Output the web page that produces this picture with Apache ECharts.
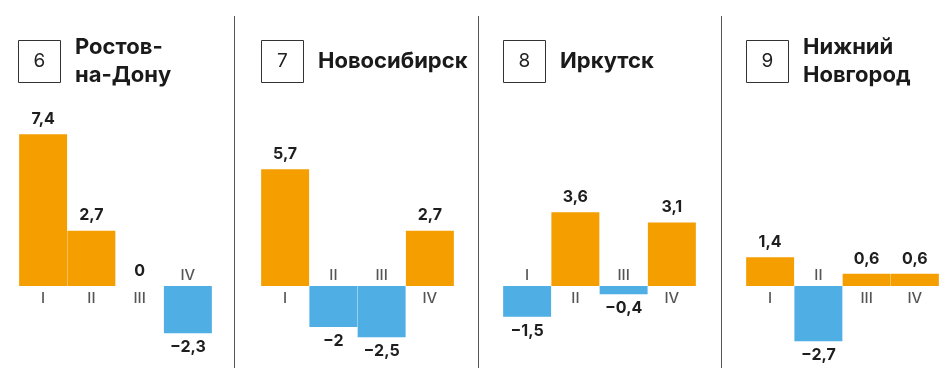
<!DOCTYPE html>
<html><head><meta charset="utf-8">
<script src="https://cdn.jsdelivr.net/npm/echarts@6/dist/echarts.min.js"></script>
<style>html,body{margin:0;padding:0;background:#fff}#c{width:947px;height:375px}</style>
</head><body><div id="c"></div>
<script>
const numbers = ['6', '7', '8', '9'];
const cities = ['Ростов-\nна-Дону', 'Новосибирск', 'Иркутск', 'Нижний\nНовгород'];
const quarters = ['I', 'II', 'III', 'IV'];
const rostov = [7.4, 2.7, 0, -2.3];
const novosibirsk = [5.7, -2, -2.5, 2.7];
const irkutsk = [-1.5, 3.6, -0.4, 3.1];
const nizhny = [1.4, -2.7, 0.6, 0.6];
const panels = [rostov, novosibirsk, irkutsk, nizhny];

const ORANGE = '#F59E00', BLUE = '#4FAEE3';
const FONT = 'Inter, Roboto, sans-serif';
const gridLefts = [19, 261, 503, 746];
const boxLefts = [18, 261, 503, 746];
const sepX = [234.5, 478.5, 721.5];

function fmt(v) {
  const s = String(Math.abs(v)).replace('.', ',');
  return v < 0 ? '\u2212' + s : s;
}

const grid = [], xAxis = [], yAxis = [], series = [], graphic = [];
panels.forEach((vals, p) => {
  grid.push({left: gridLefts[p], width: 193, top: 122, height: 235.75});
  xAxis.push({type: 'category', gridIndex: p, data: quarters, show: false, boundaryGap: true});
  yAxis.push({type: 'value', gridIndex: p, min: -3.5, max: 8, show: false});
  series.push({
    type: 'bar', xAxisIndex: p, yAxisIndex: p, barCategoryGap: 0, barWidth: '99.4%',
    data: vals.map(v => ({
      value: v,
      itemStyle: {color: v >= 0 ? ORANGE : BLUE},
      label: {position: v >= 0 ? 'top' : 'bottom', distance: v >= 0 ? 7 : 6}
    })),
    label: {show: true, formatter: d => fmt(d.value), fontFamily: FONT, fontWeight: 'bold', fontSize: 16, color: '#1e1e1e'},
    silent: true, animation: false
  });
  series.push({
    type: 'scatter', xAxisIndex: p, yAxisIndex: p, symbolSize: 0.1,
    data: vals.map((v, i) => ({
      value: [i, 0],
      label: {position: v >= 0 ? 'bottom' : 'top', distance: v >= 0 ? 5 : 3}
    })),
    label: {show: true, formatter: d => quarters[d.value[0]], fontFamily: FONT, fontSize: 15, fontWeight: 500, color: '#2a2a2a'},
    silent: true, animation: false, z: 5
  });
  graphic.push({type: 'rect', shape: {x: boxLefts[p] + 0.5, y: 40.5, width: 42, height: 42},
    style: {fill: '#fff', stroke: '#333', lineWidth: 1}});
  graphic.push({type: 'text', x: boxLefts[p] + 21.5, y: 61.5,
    style: {text: numbers[p], fontFamily: FONT, fontSize: 19, fill: '#222', align: 'center', verticalAlign: 'middle'}});
  graphic.push({type: 'text', x: boxLefts[p] + 57, y: 61.5,
    style: {text: cities[p], fontFamily: FONT, fontSize: 22, fontWeight: 'bold', fill: '#1a1a1a',
      verticalAlign: 'middle', lineHeight: 28}});
});
sepX.forEach(x => graphic.push({type: 'line', shape: {x1: x, y1: 16, x2: x, y2: 368},
  style: {stroke: '#555', lineWidth: 1}}));

const chart = echarts.init(document.getElementById('c'), null, {renderer: 'canvas'});
chart.setOption({animation: false, backgroundColor: '#fff', grid, xAxis, yAxis, series, graphic});
</script></body></html>
